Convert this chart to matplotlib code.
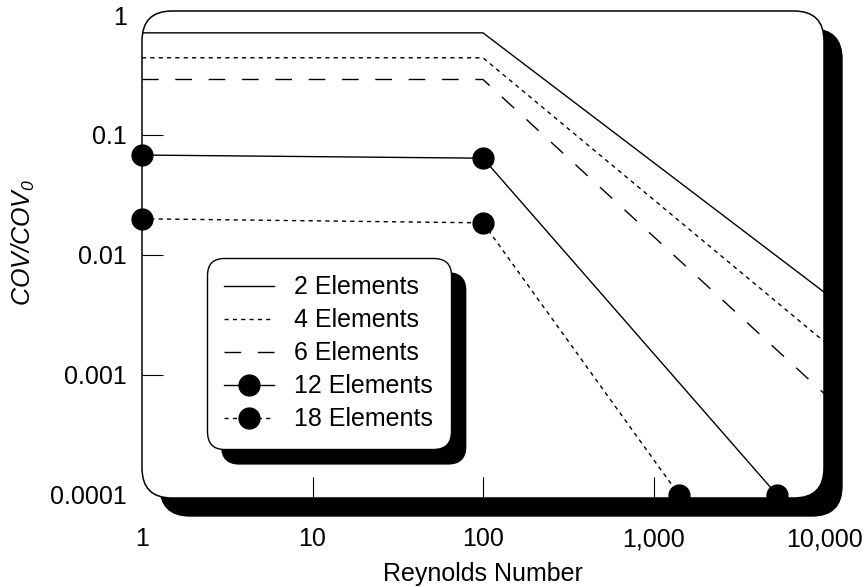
import matplotlib
matplotlib.use("Agg")
import matplotlib.pyplot as plt
from matplotlib.patches import FancyBboxPatch
from matplotlib.ticker import FixedLocator, FixedFormatter, NullLocator

plt.rcParams['font.family'] = ['Liberation Sans', 'DejaVu Sans']
plt.rcParams['mathtext.fontset'] = 'custom'
plt.rcParams['mathtext.it'] = 'Liberation Sans:italic'
plt.rcParams['mathtext.rm'] = 'Liberation Sans:italic'

# data (knee at Re = 100)
re_2 = [1, 100, 10000]
cov_2 = [0.71, 0.71, 0.0049]
re_4 = [1, 100, 10000]
cov_4 = [0.44, 0.44, 0.0019]
re_6 = [1, 100, 10000]
cov_6 = [0.29, 0.29, 0.0007]
re_12 = [1, 100, 5300]
cov_12 = [0.068, 0.064, 0.0001]
re_18 = [1, 100, 1410]
cov_18 = [0.020, 0.0185, 0.0001]

x_ticks = [1, 10, 100, 1000, 10000]
x_tick_labels = ['1', '10', '100', '1,000', '10,000']
y_ticks = [0.0001, 0.001, 0.01, 0.1, 1]
y_tick_labels = ['0.0001', '0.001', '0.01', '0.1', '1']

fig = plt.figure(figsize=(8.64, 5.87), dpi=100)
ax = fig.add_axes([142 / 864, 89 / 587, 682 / 864, 487 / 587])
ax.patch.set_visible(False)
for sp in ax.spines.values():
    sp.set_visible(False)

# rounded frame with black drop shadow
pos = ax.get_position()
W, H = fig.get_size_inches()
x0, y0, w, h = pos.x0 * W, pos.y0 * H, pos.width * W, pos.height * H
shadow = FancyBboxPatch((x0 + 0.18, y0 - 0.18), w, h,
                        boxstyle='round,pad=0,rounding_size=0.3',
                        transform=fig.dpi_scale_trans,
                        fc='black', ec='black', lw=1, zorder=-2)
frame = FancyBboxPatch((x0, y0), w, h,
                       boxstyle='round,pad=0,rounding_size=0.3',
                       transform=fig.dpi_scale_trans,
                       fc='white', ec='black', lw=1.1, zorder=-1)
fig.add_artist(shadow)
fig.add_artist(frame)

lw = 1.0
ax.plot(re_2, cov_2, color='black', lw=lw, ls='-', label='2 Elements')
ax.plot(re_4, cov_4, color='black', lw=lw, ls=(0, (3, 3)), label='4 Elements')
ax.plot(re_6, cov_6, color='black', lw=lw, ls=(0, (12, 12)), label='6 Elements')
ax.plot(re_12, cov_12, color='black', lw=lw, ls='-', marker='o', ms=15,
        clip_on=False, label='12 Elements')
ax.plot(re_18, cov_18, color='black', lw=lw, ls=(0, (3, 3)), marker='o', ms=15,
        clip_on=False, label='18 Elements')

ax.set_xscale('log')
ax.set_yscale('log')
ax.set_xlim(1, 10000)
ax.set_ylim(9.4e-5, 1.08)

ax.xaxis.set_major_locator(FixedLocator(x_ticks))
ax.xaxis.set_major_formatter(FixedFormatter(x_tick_labels))
ax.yaxis.set_major_locator(FixedLocator(y_ticks))
ax.yaxis.set_major_formatter(FixedFormatter(y_tick_labels))
ax.xaxis.set_minor_locator(NullLocator())
ax.yaxis.set_minor_locator(NullLocator())
ax.tick_params(axis='both', direction='in', length=15, width=0.8,
               color='black', labelsize=18, top=False, right=False)
ax.tick_params(axis='x', pad=21)
ax.tick_params(axis='y', pad=11)

# no tick marks where the rounded corners are
for val, t in zip(x_ticks, ax.xaxis.get_major_ticks()):
    if val in (1, 10000):
        t.tick1line.set_visible(False)
for val, t in zip(y_ticks, ax.yaxis.get_major_ticks()):
    if val in (0.0001, 1):
        t.tick1line.set_visible(False)

ax.set_xlabel('Reynolds Number', fontsize=18, labelpad=8)
ax.set_ylabel(r'$COV/COV_0$', fontsize=18)
ax.yaxis.set_label_coords(-0.154, 0.524)

leg = ax.legend(loc='upper left', bbox_to_anchor=(0.095, 0.493),
                borderaxespad=0, fontsize=18, frameon=True, fancybox=True,
                shadow={'facecolor': 'black', 'edgecolor': 'black',
                        'alpha': 1, 'ox': 10.8, 'oy': -10.8},
                handlelength=2.0, handletextpad=0.8, labelspacing=0.36,
                borderpad=0.7, edgecolor='black', framealpha=1)
leg.get_frame().set_boxstyle('round,pad=0,rounding_size=0.7')
leg.get_frame().set_linewidth(1)

fig.savefig('out.png', dpi=100)
